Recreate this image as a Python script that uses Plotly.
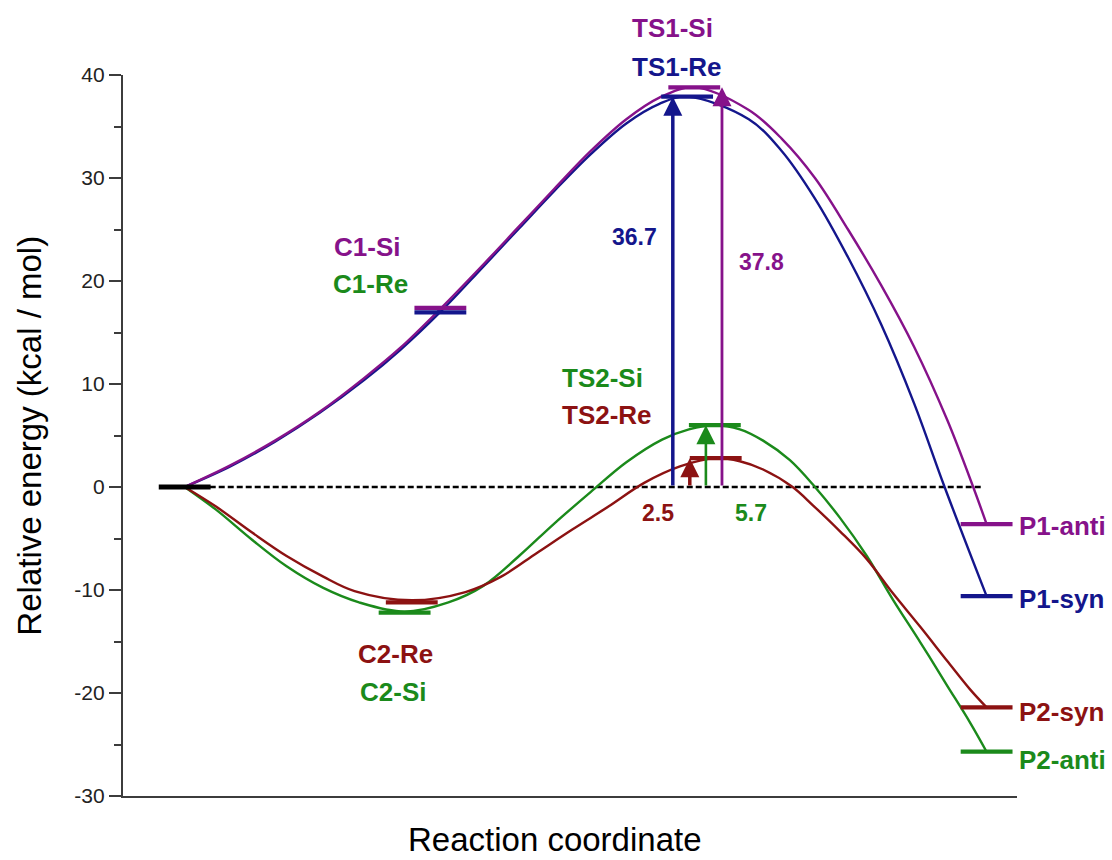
import plotly.graph_objects as go

# ---------------- data ----------------
# reaction coordinate (arbitrary units, 0..10) and relative energy (kcal/mol)
si1_x = [0.69, 1.20, 1.70, 2.20, 2.70, 3.10, 3.55, 4.03, 4.43, 4.83, 5.23, 5.63, 6.00, 6.39,
         7.00, 7.37, 7.74, 8.11, 8.48, 8.85, 9.22, 9.51, 9.66]
si1_y = [0.0, 2.1, 4.5, 7.3, 10.6, 13.5, 17.3, 21.6, 25.3, 29.0, 32.6, 35.7, 37.8, 38.8,
         36.6, 33.8, 30.0, 25.0, 19.6, 13.6, 6.5, 0.0, -3.6]

re1_x = [0.69, 1.20, 1.70, 2.20, 2.70, 3.10, 3.55, 4.03, 4.43, 4.83, 5.23, 5.63, 6.00, 6.31,
         7.00, 7.37, 7.74, 8.11, 8.48, 8.85, 9.19, 9.66]
re1_y = [0.0, 2.0, 4.4, 7.2, 10.4, 13.3, 17.0, 21.4, 25.1, 28.8, 32.3, 35.3, 37.2, 37.9,
         35.7, 32.6, 28.0, 22.3, 15.8, 8.1, 0.0, -10.6]

si2_x = [0.69, 1.04, 1.44, 1.83, 2.24, 2.64, 3.15, 3.64, 4.03, 4.43, 4.83, 5.23, 5.63, 6.03, 6.33, 6.62,
         6.90, 7.16, 7.46, 7.74, 8.02, 8.32, 8.61, 8.92, 9.22, 9.47, 9.66]
si2_y = [0.0, -2.2, -5.1, -7.7, -9.8, -11.2, -12.1, -11.2, -9.6, -6.7, -3.5, -0.5, 2.4, 4.6, 5.6, 6.0,
         5.6, 4.5, 2.6, 0.0, -3.0, -6.7, -10.9, -15.1, -19.3, -22.8, -25.7]

re2_x = [0.69, 1.04, 1.44, 1.83, 2.24, 2.59, 3.23, 3.83, 4.23, 4.63, 5.03, 5.43, 5.83, 6.23, 6.63,
         6.90, 7.16, 7.49, 7.72, 8.02, 8.32, 8.61, 8.92, 9.22, 9.47, 9.66]
re2_y = [0.0, -1.9, -4.4, -6.7, -8.7, -10.1, -11.0, -10.2, -8.7, -6.4, -4.1, -1.9, 0.4, 2.0, 2.8,
         2.5, 1.7, 0.0, -1.8, -4.3, -7.0, -10.3, -13.6, -16.9, -19.6, -21.4]

# stationary-point levels
level_names = ["R", "C1-Si", "C1-Re", "TS1-Si", "TS1-Re", "C2-Re", "C2-Si", "TS2-Si", "TS2-Re",
               "P1-anti", "P1-syn", "P2-syn", "P2-anti"]
level_x = [0.69, 3.55, 3.55, 6.39, 6.31, 3.23, 3.15, 6.62, 6.63, 9.66, 9.66, 9.66, 9.66]
level_y = [0.0, 17.4, 16.95, 38.8, 37.9, -11.2, -12.2, 6.0, 2.8, -3.6, -10.6, -21.4, -25.7]

# barrier arrows (x position, top energy, label)
arrow_x = [6.15, 6.70, 6.34, 6.52]
arrow_top = [37.9, 38.8, 2.8, 6.0]
arrow_labels = ["36.7", "37.8", "2.5", "5.7"]
arrow_label_x = [5.72, 7.14, 5.98, 7.02]
arrow_label_y = [24.3, 21.8, -2.5, -2.5]

# reference (zero) line extent
zero_x = [0.97, 9.62]
zero_y = [0.0, 0.0]

# species labels (energy-axis positions)
label_text = ["TS1-Si", "TS1-Re", "C1-Si", "C1-Re", "TS2-Si", "TS2-Re", "C2-Re", "C2-Si"]
label_x = [6.15, 6.20, 2.73, 2.77, 5.36, 5.41, 3.05, 3.02]
label_y = [44.6, 40.8, 23.3, 19.7, 10.6, 7.0, -16.2, -19.9]
product_labels = ["P1-anti", "P1-syn", "P2-syn", "P2-anti"]
product_label_y = [-3.8, -10.9, -21.8, -26.5]

y_range = [-30, 40]
y_ticks = [-30, -20, -10, 0, 10, 20, 30, 40]
y_ticktext = ["-30", "-20", "-10", "0", "10", "20", "30", "40"]

# ---------------- styles ----------------
PURPLE = "#86128a"
NAVY = "#14168c"
GREEN = "#1b8a1b"
DRED = "#8c1212"
level_colors = ["#000000", PURPLE, NAVY, PURPLE, NAVY, DRED, GREEN, GREEN, DRED, PURPLE, NAVY, DRED, GREEN]
arrow_colors = [NAVY, PURPLE, DRED, GREEN]
arrow_widths = [3.5, 2.8, 3.5, 2.6]
label_colors = [PURPLE, NAVY, PURPLE, GREEN, GREEN, DRED, DRED, GREEN]
product_colors = [PURPLE, NAVY, DRED, GREEN]
HALF = 0.29
FONT = "Liberation Sans, Arial, sans-serif"


def to_paper_y(v):
    return (v - y_range[0]) / (y_range[1] - y_range[0])


fig = go.Figure()

# zero reference line
fig.add_trace(go.Scatter(x=zero_x, y=zero_y, mode="lines",
                         line=dict(color="black", width=2.4, dash="6px,3px"), hoverinfo="skip"))

# energy profiles
for xs, ys, col in [(si2_x, si2_y, GREEN), (re2_x, re2_y, DRED),
                    (re1_x, re1_y, NAVY), (si1_x, si1_y, PURPLE)]:
    fig.add_trace(go.Scatter(x=xs, y=ys, mode="lines",
                             line=dict(color=col, width=2.4, shape="spline", smoothing=1.0),
                             hoverinfo="skip"))

# level bars
for name, cx, cy, col in zip(level_names, level_x, level_y, level_colors):
    fig.add_trace(go.Scatter(x=[cx - HALF, cx + HALF], y=[cy, cy], mode="lines",
                             line=dict(color=col, width=5 if name == "R" else 4.3), hoverinfo="skip"))

annotations = []
# arrows
for ax_, top, col, w in zip(arrow_x, arrow_top, arrow_colors, arrow_widths):
    annotations.append(dict(x=ax_, y=top, ax=ax_, ay=0, xref="x", yref="y", axref="x", ayref="y",
                            text="", showarrow=True, arrowhead=2, arrowsize=19.0 / (5 * w),
                            arrowwidth=w, arrowcolor=col, standoff=0, startstandoff=0))
for t, x, y, col in zip(arrow_labels, arrow_label_x, arrow_label_y, arrow_colors):
    annotations.append(dict(x=x, y=y, xref="x", yref="y", text=t, showarrow=False,
                            font=dict(family=FONT, size=23, color=col, weight="bold")))
for t, x, y, col in zip(label_text, label_x, label_y, label_colors):
    annotations.append(dict(x=x, y=to_paper_y(y), xref="x", yref="paper", text=t, showarrow=False,
                            yanchor="middle",
                            font=dict(family=FONT, size=26, color=col, weight="bold")))
for t, y, col in zip(product_labels, product_label_y, product_colors):
    annotations.append(dict(x=10.0, y=y, xref="x", yref="y", text=t, showarrow=False,
                            xanchor="left", xshift=0,
                            font=dict(family=FONT, size=26, color=col, weight="bold")))
# axis titles
annotations.append(dict(x=4.83, y=-0.0875, xref="x", yref="paper", text="Reaction coordinate",
                        showarrow=False, yanchor="bottom", borderpad=0,
                        font=dict(family=FONT, size=33, color="black")))
annotations.append(dict(x=-0.105, y=0.5, xref="paper", yref="paper", text="Relative energy (kcal / mol)",
                        showarrow=False, textangle=-90, xanchor="center", yanchor="middle",
                        font=dict(family=FONT, size=33, color="black")))

fig.update_layout(
    width=1112, height=860,
    margin=dict(l=123, r=95, t=75, b=64),
    paper_bgcolor="white", plot_bgcolor="white",
    showlegend=False,
    annotations=annotations,
    xaxis=dict(range=[0, 10], showgrid=False, zeroline=False, showticklabels=False, ticks="",
               showline=True, linecolor="#3c3c3c", linewidth=2.2),
    yaxis=dict(range=y_range, showgrid=False, zeroline=False, tickvals=y_ticks, ticktext=y_ticktext,
               ticks="outside", ticklen=12, tickwidth=2, tickcolor="#3c3c3c",
               showline=True, linecolor="#3c3c3c", linewidth=2.2,
               tickfont=dict(family=FONT, size=21, color="#222222"),
               minor=dict(dtick=5, tick0=0, ticks="outside", ticklen=7, tickwidth=1.5, tickcolor="#3c3c3c")),
)

fig.write_html("out.html", config={"displayModeBar": False},
               post_script="document.body.style.margin='0';document.body.style.overflow='hidden';")
